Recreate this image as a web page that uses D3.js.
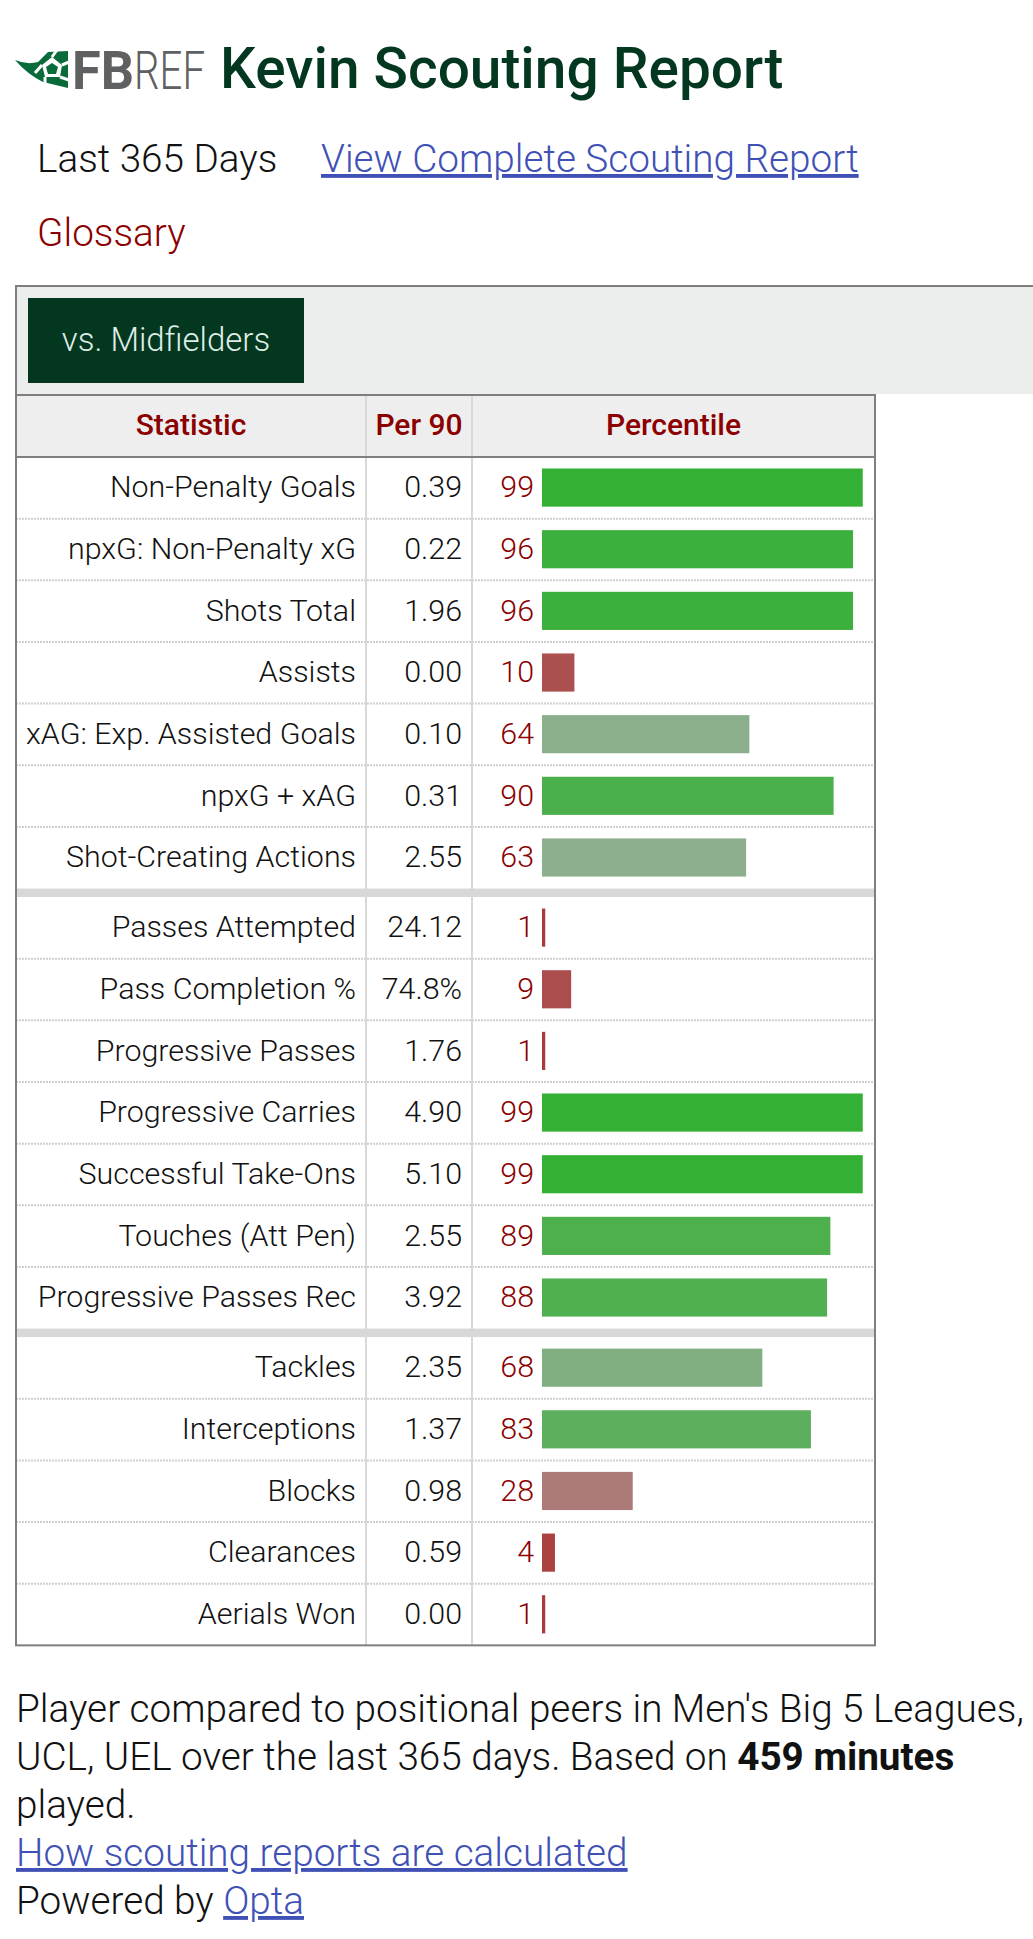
<!DOCTYPE html>
<html>
<head>
<meta charset="utf-8">
<script src="https://cdn.jsdelivr.net/npm/d3@7"></script>
<style>
  html, body { margin: 0; padding: 0; background: #fff; }
  svg { display: block; font-family: Roboto, sans-serif; }
</style>
</head>
<body>
<svg id="chart" width="1033" height="1939"></svg>
<script>
var statistics = ["Non-Penalty Goals", "npxG: Non-Penalty xG", "Shots Total", "Assists", "xAG: Exp. Assisted Goals", "npxG + xAG", "Shot-Creating Actions",
	"Passes Attempted", "Pass Completion %", "Progressive Passes", "Progressive Carries", "Successful Take-Ons", "Touches (Att Pen)", "Progressive Passes Rec",
	"Tackles", "Interceptions", "Blocks", "Clearances", "Aerials Won"];
var per90 = ["0.39", "0.22", "1.96", "0.00", "0.10", "0.31", "2.55",
	"24.12", "74.8%", "1.76", "4.90", "5.10", "2.55", "3.92",
	"2.35", "1.37", "0.98", "0.59", "0.00"];
var percentiles = [99, 96, 96, 10, 64, 90, 63,
	1, 9, 1, 99, 99, 89, 88,
	68, 83, 28, 4, 1];
var groupSizes = [7, 7, 5];
var headers = ["Statistic", "Per 90", "Percentile"];

var svg = d3.select("#chart");
var ink = "#111", maroon = "#8b0000", link = "#3f51b5", forest = "#03371f", rule = "#7f7f7f", soft = "#d8d8d8";

var x = d3.scaleLinear().domain([0, 100]).range([542, 866]);
var barColor = d3.scaleLinear().domain([1, 50, 100]).range(["#ac3a3a", "#aeaeae", "#32b032"]);

function txt(s, px, py, size, fill, weight, anchor) {
	return svg.append("text").attr("x", px).attr("y", py).attr("font-size", size)
		.attr("fill", fill).attr("font-weight", weight || 300)
		.attr("text-anchor", anchor || "start").text(s);
}

function hline(x1, x2, y, color, w, dash) {
	svg.append("line").attr("x1", x1).attr("x2", x2).attr("y1", y).attr("y2", y)
		.attr("stroke", color).attr("stroke-width", w).attr("stroke-dasharray", dash || null);
}

function vline(xp, y1, y2, color, w) {
	svg.append("line").attr("x1", xp).attr("x2", xp).attr("y1", y1).attr("y2", y2)
		.attr("stroke", color).attr("stroke-width", w);
}

// logo
var logo = svg.append("g");
logo.append("path").attr("fill", "#0a6b3a")
	.attr("d", "M15,60 Q27,65 38,62 L48,52 L68,51 L68,88 L43,82 Q27,74 15,60 Z");
logo.append("path").attr("fill", "#fff").attr("d", "M42,65 L52,57 L62,65 L60,77 L45,77 Z");
logo.append("path").attr("fill", "#0a6b3a").attr("d", "M46,67 L52,63 L58,67 L56,74 L48,74 Z");
logo.append("path").attr("fill", "none").attr("stroke", "#fff").attr("stroke-width", 3)
	.attr("d", "M52,57 L57,50 M62,65 L69,62 M60,77 L69,80 M45,77 L45,84 M42,65 L35,73");
txt("FB", 72, 89, 53, "#5f6062", 700).attr("textLength", 62).attr("lengthAdjust", "spacingAndGlyphs");
txt("REF", 134, 89, 53, "#5f6062", 300).attr("textLength", 71).attr("lengthAdjust", "spacingAndGlyphs");

// title and top lines
txt("Kevin Scouting Report", 220, 88, 56.8, forest, 500);
txt("Last 365 Days", 37, 172, 38.7, ink);
txt("View Complete Scouting Report", 321, 172, 38.7, link).attr("text-decoration", "underline");
txt("Glossary", 37, 246, 38.7, maroon);

// tab band
svg.append("rect").attr("x", 16).attr("y", 286).attr("width", 1017).attr("height", 108).attr("fill", "#eceeee");
hline(15, 1033, 286, rule, 2);
vline(16, 285, 394, rule, 2);
svg.append("rect").attr("x", 28).attr("y", 298).attr("width", 276).attr("height", 85).attr("fill", forest);
txt("vs. Midfielders", 166, 351, 33, "#dfeee6", 300, "middle");

// table
var tableLeft = 16, tableRight = 875, tableTop = 395, headBottom = 457, rowH = 61.65, gap = 8.5;
var col1 = 366, col2 = 472;
svg.append("rect").attr("x", tableLeft).attr("y", tableTop).attr("width", tableRight - tableLeft).attr("height", headBottom - tableTop).attr("fill", "#eeeeee");

txt(headers[0], (tableLeft + col1) / 2, 435, 30, maroon, 500, "middle");
txt(headers[1], (col1 + col2) / 2, 435, 30, maroon, 500, "middle");
txt(headers[2], (col2 + tableRight) / 2, 435, 30, maroon, 500, "middle");

var start = 0, rowTop = headBottom, tableBottom;
var rows = [];
groupSizes.forEach(function(n, g) {
	var names = statistics.slice(start, start + n);
	var y = d3.scaleBand().domain(names).range([rowTop, rowTop + n * rowH]);
	names.forEach(function(name, i) {
		rows.push({name: name, value: per90[start + i], pct: percentiles[start + i], y: y, last: i == n - 1});
	});
	start += n;
	rowTop = rowTop + n * rowH;
	if (g < groupSizes.length - 1) {
		svg.append("rect").attr("x", tableLeft).attr("y", rowTop).attr("width", tableRight - tableLeft).attr("height", gap).attr("fill", soft);
		rowTop += gap;
	}
});
tableBottom = rowTop;

rows.forEach(function(d) {
	var y0 = d.y(d.name), bw = d.y.bandwidth();
	if (!d.last) hline(tableLeft, tableRight, y0 + bw, "#d0d0d0", 2, "2,1");
	txt(d.name, 356, y0 + bw / 2 + 9.5, 30.4, ink, 300, "end");
	txt(d.value, 462, y0 + bw / 2 + 9.5, 30.4, ink, 300, "end");
	txt(d.pct, 534, y0 + bw / 2 + 9.5, 30.4, maroon, 300, "end");
	svg.append("rect").attr("x", x(0)).attr("y", y0 + 11.5).attr("width", x(d.pct) - x(0)).attr("height", bw - 23.5).attr("fill", barColor(d.pct));
});

vline(col1, tableTop, tableBottom, soft, 2);
vline(col2, tableTop, tableBottom, soft, 2);
svg.append("rect").attr("x", tableLeft).attr("y", tableTop).attr("width", tableRight - tableLeft).attr("height", tableBottom - tableTop)
	.attr("fill", "none").attr("stroke", rule).attr("stroke-width", 2);
hline(tableLeft, tableRight, headBottom, rule, 2);

// footnote
txt("Player compared to positional peers in Men's Big 5 Leagues,", 16, 1722, 38.7, ink);
var l2 = txt("UCL, UEL over the last 365 days. Based on ", 16, 1770, 38.7, ink);
l2.append("tspan").attr("font-weight", 700).text("459 minutes");
txt("played.", 16, 1818, 38.7, ink);
txt("How scouting reports are calculated", 16, 1866, 38.7, link).attr("text-decoration", "underline");
var l5 = txt("Powered by ", 16, 1914, 38.7, ink);
l5.append("tspan").attr("fill", link).attr("text-decoration", "underline").text("Opta");
</script>
</body>
</html>
